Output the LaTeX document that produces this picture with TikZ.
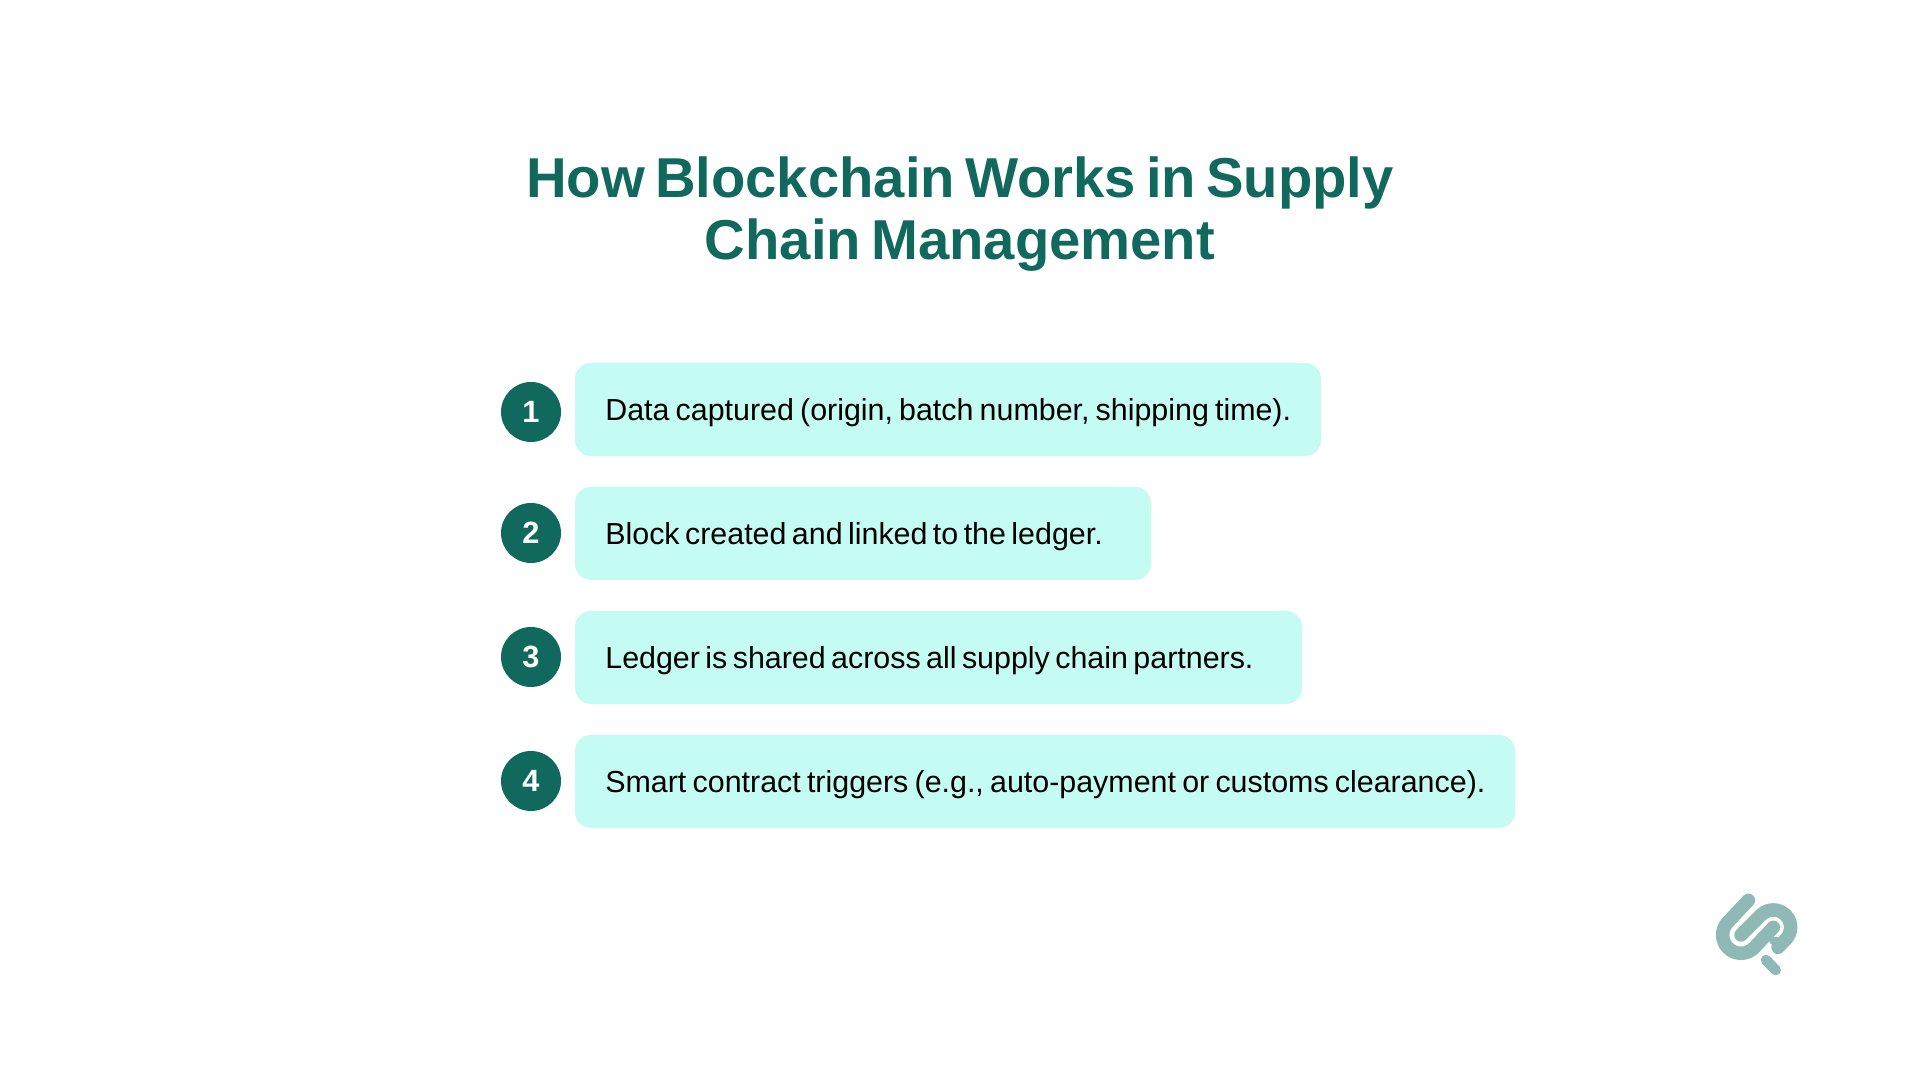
\documentclass[tikz,border=0pt]{standalone}
\usepackage{fontspec}
\setmainfont{Liberation Sans}
\definecolor{pineteal}{HTML}{11695E}
\definecolor{paleteal}{HTML}{C4FBF2}
\definecolor{logoteal}{HTML}{8FB9B4}
\newcommand{\wordgap}[1]{\spaceskip #1\relax}
\tikzset{
  stepnum/.style={circle, fill=pineteal, text=white, minimum size=1.2cm, inner sep=0pt, font=\fontsize{17.5}{17.5}\selectfont\bfseries},
  steptext/.style={anchor=west, inner sep=0pt, text=black, font={\fontsize{17.3}{17.3}\selectfont\wordgap{#1}}},
  stepbar/.style={fill=paleteal, rounded corners=0.32cm},
  logoline/.style={draw=logoteal, line width=0.27cm, line cap=round},
}
\begin{document}
\begin{tikzpicture}
\useasboundingbox (0,0) rectangle (38.4,21.6);
\node[align=center, text=pineteal, font={\fontsize{32}{35.3}\selectfont\bfseries\wordgap{5.8pt}}] (title) at (19.2,17.32) {How Blockchain Works in Supply\\Chain Management};
% the four rows
\fill[stepbar] (11.5,14.34) rectangle (26.42,12.48);
\fill[stepbar] (11.5,11.86) rectangle (23.02,10);
\fill[stepbar] (11.5,9.38) rectangle (26.04,7.52);
\fill[stepbar] (11.5,6.9) rectangle (30.3,5.04);
\node[stepnum] (num1) at (10.62,13.36) {1};
\node[stepnum] (num2) at (10.62,10.94) {2};
\node[stepnum] (num3) at (10.62,8.46) {3};
\node[stepnum] (num4) at (10.62,5.98) {4};
\node[steptext=3.5pt] (text1) at (12.1,13.34) {Data captured (origin, batch number, shipping time).};
\node[steptext=3.1pt] (text2) at (12.1,10.86) {Block created and linked to the ledger.};
\node[steptext=3.1pt] (text3) at (12.1,8.38) {Ledger is shared across all supply chain partners.};
\node[steptext=3.55pt] (text4) at (12.1,5.9) {Smart contract triggers (e.g., auto-payment or customs clearance).};
% logo
\begin{scope}[shift={(34.2,3.9)}, x=0.00667cm, y=-0.00667cm]
\draw[logoline] (115,46) -- (54,111) arc[start angle=225, end angle=45, radius=55] -- (190,127);
\draw[logoline] (93,150) -- (153,90) arc[start angle=225, end angle=405, radius=52] -- (204,187);
\draw[logoline, line width=0.16cm] (190,168) -- (212,168);
\draw[logoline, line width=0.21cm] (168,225) -- (197,255);
\end{scope}
\end{tikzpicture}
\end{document}
